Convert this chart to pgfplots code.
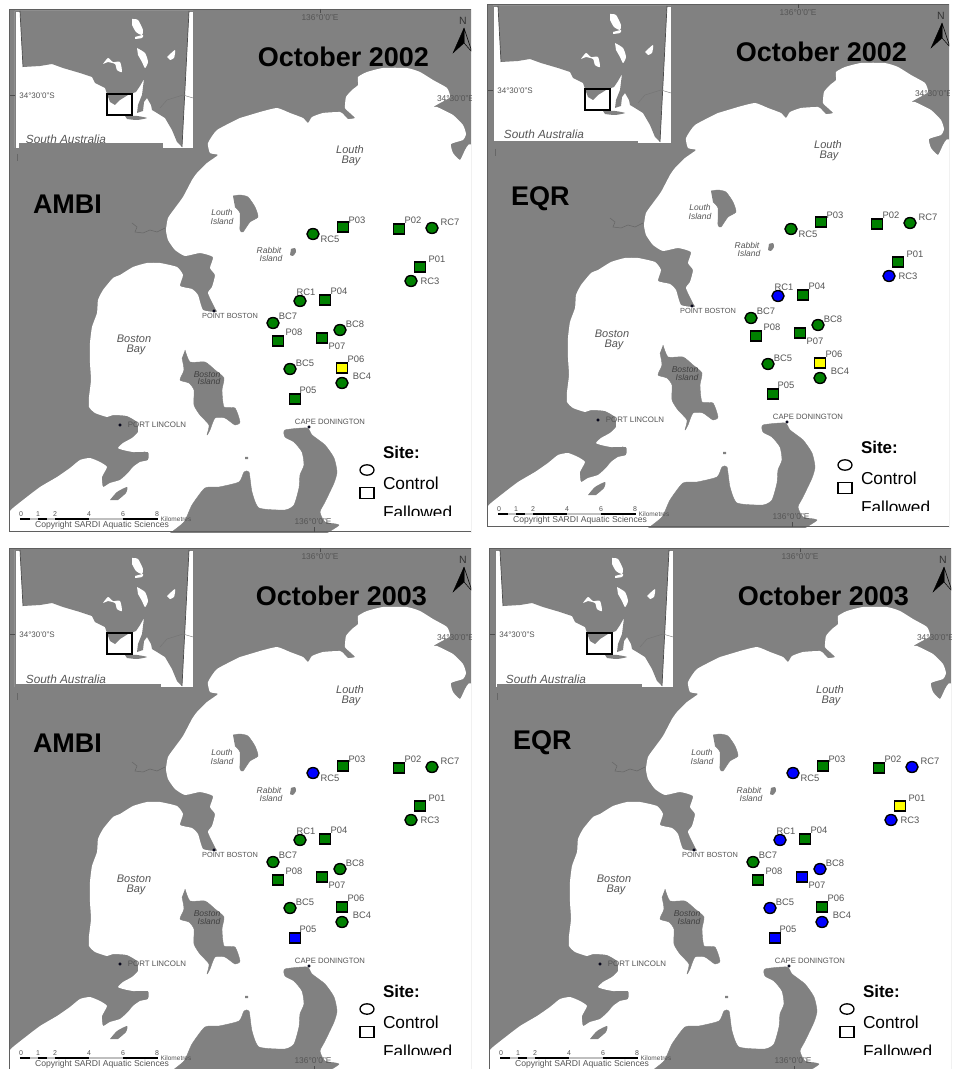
\documentclass[border=0pt]{standalone}
\usepackage{fontspec}
\setmainfont{Liberation Sans}
\usepackage{pgfplots}
\usepackage{pgfplotstable}
\pgfplotsset{compat=1.18}

\definecolor{land}{RGB}{129,129,129}
\definecolor{framec}{RGB}{95,95,95}
\definecolor{labelc}{RGB}{85,85,85}
\definecolor{sgreen}{RGB}{0,128,0}
\definecolor{sblue}{RGB}{0,0,255}
\definecolor{syellow}{RGB}{255,255,0}
\newcommand{\fs}[1]{\fontsize{#1}{#1}\selectfont}
\tikzset{every node/.append style={inner sep=0pt, outer sep=0pt}}

% all map coordinates are pixels of the top left panel
\pgfplotstableread{
x y
240 118
217 130
208 143
210 153
218 155
207 163
197 173
192 180
183 197
175 208
168 218
166 230
168 240
175 250
185 256
200 253
213 257
210 268
215 275
212 287
208 293
215 308
217 312
203 310
198 295
192 289
180 286
183 275
177 267
160 263
147 263
133 267
120 275
113 278
103 290
98 300
97 313
92 327
90 343
90 363
91 380
89 397
89 407
95 413
107 417
113 415
127 416
137 422
138 432
132 438
123 443
118 448
123 450
133 452
148 452
148 460
140 462
133 467
128 473
120 480
110 483
103 487
102 477
107 467
100 462
90 458
80 460
70 468
57 477
40 487
23 500
13 508
9 513
9 534
473 534
473 157
460 160
453 153
451 144
463 140
466 134
463 125
453 115
437 107
433 107
440 103
450 97
447 88
433 80
420 72
407 68
383 68
367 72
358 77
358 85
352 90
346 97
345 108
350 113
355 118
348 119
344 115
340 112
323 113
312 117
308 123
303 118
290 113
277 108
260 112
}\water

\pgfplotstableread{
x y
169 534
184 522
192 505
205 488
219 487
239 482
244 472
249 472
252 492
259 508
285 510
294 505
299 488
300 475
304 465
302 452
294 442
285 437
285 430
307 428
312 435
325 445
334 458
337 472
334 483
325 502
320 512
325 522
339 525
325 534
}\capedon

\pgfplotstableread{
x y
185 350
190 362
205 362
215 370
224 378
222 390
224 407
235 408
240 422
235 425
225 418
215 418
210 430
207 435
209 425
200 415
194 405
194 390
189 383
180 380
184 370
182 358
}\bostonisl

\pgfplotstableread{
x y
233 196
240 195
248 197
255 207
258 217
250 222
243 232
240 230
240 213
235 207
}\louthisl

\pgfplotstableread{
x y
20 11
189 11
182 147
177 142
172 130
165 118
157 113
152 110
151 105
147 98
144 102
143 111
137 113
138 105
142 95
144 79
140 86
136 92
128 95
120 100
115 105
110 102
107 94
105 88
95 83
92 77
80 73
63 68
52 64
40 66
23 67
}\insetland

% site status per panel: g green, b blue, y yellow
\pgfplotstableread{
x y a b c d
343 227 sg sg sg sg
313 234 cg cg cb cb
399 229 sg sg sg sg
432 228 cg cg cg cb
420 267 sg sg sg sy
411 281 cg cb cg cb
300 301 cg cb cg cb
325 300 sg sg sg sg
273 323 cg cg cg cg
340 330 cg cg cg cb
278 341 sg sg sg sg
322 338 sg sg sg sb
290 369 cg cg cg cb
342 368 sy sy sg sg
342 383 cg cg cg cb
295 399 sg sg sb sb
}\sites

\pgfplotstableread{
x y lab
357 220 P03
330 239 RC5
413 220 P02
450 222 RC7
437 259 P01
430 281 RC3
306 292 RC1
339 291 P04
288 316 BC7
355 324 BC8
294 332 P08
337 346 P07
305 363 BC5
356 359 P06
362 376 BC4
308 390 P05
}\sitelabels

\pgfplotsset{mapaxis/.style={
  scale only axis, width=462pt, height=523pt,
  xmin=9, xmax=471, ymin=9, ymax=532, y dir=reverse,
  hide axis, anchor=center,
}}

\newcommand{\landpoly}[1]{\addplot[fill=land, draw=land, line width=0.4pt, line join=round, smooth, tension=0.35] table {#1};}
\newcommand{\mapcol}[2]{\addplot[fill=#1, draw=none, smooth, tension=0.4] coordinates {#2};}
\newcommand{\nm}[4]{\node[font=\fs{#1}\itshape, text=#4, anchor=base] at (axis cs:#2) {#3};}

% #1 #2 panel centre, #3 status column, #4 title, #5 title x, #6 index label
% #7 #8 #9 grey box x1, x2, top
\newcommand{\panel}[9]{%
\begin{axis}[mapaxis, at={(#1pt,#2pt)}]
  % land everywhere, then the sea, then islands
  \addplot[fill=land, draw=none] coordinates {(9,9) (473,9) (473,534) (9,534)};
  \addplot[fill=white, draw=none, line join=round, smooth, tension=0.3] table {\water};
  \landpoly{\capedon}
  \landpoly{\bostonisl}
  \landpoly{\louthisl}
  \mapcol{land}{(110,500) (117,492) (127,487) (126,493) (118,500)}
  \mapcol{land}{(245,457) (248,457) (248,459) (245,459)}
  \mapcol{land}{(291,249) (295,248) (296,252) (293,256) (290,255)}
  % inset
  \addplot[fill=white, draw=gray, line width=0.8pt] coordinates {(15,11) (193,11) (193,148) (15,148) (15,11)};
  \addplot[fill=land, draw=none] table {\insetland};
  \mapcol{land}{(125,116) (137,116) (147,118) (137,120) (127,119)}
  \mapcol{white}{(132,19) (138,20) (143,30) (142,35) (136,32) (132,25)}
  \mapcol{white}{(135,37) (143,35) (142,38) (135,39)}
  \mapcol{white}{(137,48) (145,53) (148,62) (145,68) (142,62) (138,55)}
  \mapcol{white}{(167,57) (175,50) (174,58) (170,60)}
  \mapcol{white}{(103,64) (108,58) (113,62) (120,62) (122,72) (117,70) (115,64) (108,62)}
  \draw[black!70, line width=0.7pt] (20,11) -- (23,67);
  \draw[black!70, line width=0.7pt] (189,11) -- (182,147);
  \draw[black!55, line width=0.4pt] (160,108) -- (167,100) -- (183,95) -- (193,98);
  \draw[black!70, line width=0.6pt] (10,95) -- (15,95);
  \draw[black, line width=2.2pt] (107,94) rectangle (132,115);
  \node[font=\fs{8}, text=labelc] at (axis cs:37,96) {34°30'0"S};
  \nm{11.8}{66,144}{South Australia}{labelc}
  \addplot[fill=land, draw=none] coordinates {(#7,#9) (#8,#9) (#8,165) (#7,165)};
  \draw[black!60, line width=0.7pt] (17,154) -- (17,161);
  % road on the mainland
  \draw[black!60, line width=0.5pt] (132,223) -- (137,227) -- (135,232) -- (143,233) -- (150,230) -- (157,232) -- (165,228);
  % frame, ticks
  \draw[framec, line width=1.3pt] (471,9.7) -- (9.7,9.7) -- (9.7,531.3) -- (471,531.3);
  \draw[black!70, line width=0.7pt] (320,9) -- (320,13);
  \draw[black!70, line width=0.7pt] (314,527) -- (314,532);
  % north arrow
  \addplot[fill=land, draw=black, line width=0.5pt] coordinates {(464,28) (472,52) (464,43) (464,28)};
  \addplot[fill=black, draw=black, line width=0.3pt] coordinates {(464,28) (453,53) (464,43) (464,28)};
  \node[font=\fs{10.5}, text=black!80] at (axis cs:463,21) {N};
  % scale bar
  \draw[black!25, line width=2.4pt] (20,519) -- (158,519);
  \draw[black, line width=2.4pt] (20,519) -- (30,519) (38,519) -- (47,519) (55,519) -- (89,519) (123,519) -- (158,519);
  \node[font=\fs{7}, text=labelc] at (axis cs:21,514) {0};
  \node[font=\fs{7}, text=labelc] at (axis cs:38,514) {1};
  \node[font=\fs{7}, text=labelc] at (axis cs:55,514) {2};
  \node[font=\fs{7}, text=labelc] at (axis cs:89,514) {4};
  \node[font=\fs{7}, text=labelc] at (axis cs:123,514) {6};
  \node[font=\fs{7}, text=labelc] at (axis cs:157,514) {8};
  \node[font=\fs{6.5}, text=labelc] at (axis cs:176,519) {Kilometres};
  \node[font=\fs{8.6}, text=labelc] at (axis cs:102,525.5) {Copyright SARDI Aquatic Sciences};
  % place names
  \nm{11}{350,154}{Louth}{labelc}
  \nm{11}{351,164}{Bay}{labelc}
  \nm{8.5}{222,216}{Louth}{labelc}
  \nm{8.5}{222,225}{Island}{labelc}
  \nm{8.5}{269,254}{Rabbit}{labelc}
  \nm{8.5}{271,262}{Island}{labelc}
  \nm{11}{134,343}{Boston}{labelc}
  \nm{11}{136,353}{Bay}{labelc}
  \nm{8.5}{207,377}{Boston}{black!75}
  \nm{8.5}{209,385}{Island}{black!75}
  \node[font=\fs{7.4}, text=labelc] at (axis cs:230,316) {POINT BOSTON};
  \node[font=\fs{7.9}, text=labelc] at (axis cs:157,425) {PORT LINCOLN};
  \node[font=\fs{7.7}, text=labelc] at (axis cs:330,422) {CAPE DONINGTON};
  \node[font=\fs{8.4}, text=labelc] at (axis cs:320,18) {136°0'0"E};
  \node[font=\fs{8.4}, text=labelc] at (axis cs:313,522) {136°0'0"E};
  \node[font=\fs{8.4}, text=labelc, anchor=west] at (axis cs:437,99) {34°30'0"E};
  % towns
  \addplot[only marks, mark=*, mark size=1.4pt, mark options={fill=black!80!blue, draw=none}]
    coordinates {(120,425) (214,311) (309,427)};
  % sites
  \addplot[scatter, only marks, scatter src=explicit symbolic,
    line width=1.4pt,
    scatter/classes={
      cg={mark=*, mark size=5.4pt, draw=black, fill=sgreen},
      cb={mark=*, mark size=5.4pt, draw=black, fill=sblue},
      sg={mark=square*, mark size=5pt, draw=black, fill=sgreen},
      sb={mark=square*, mark size=5pt, draw=black, fill=sblue},
      sy={mark=square*, mark size=5pt, draw=black, fill=syellow}
    }, mark options={xscale=1.12}] table[meta=#3] {\sites};
  \addplot[draw=none, mark=none, point meta=explicit symbolic, nodes near coords,
    nodes near coords style={anchor=center, font=\fs{9.4}, text=labelc}]
    table[meta=lab] {\sitelabels};
  % legend
  \addplot[only marks, mark=*, mark size=5.2pt, line width=1.3pt,
    mark options={xscale=1.35, fill=white, draw=black}] coordinates {(367,470)};
  \addplot[only marks, mark=square*, mark size=5.2pt, line width=1.3pt,
    mark options={xscale=1.35, fill=white, draw=black}] coordinates {(367,493)};
  \node[font=\fs{17}\bfseries, anchor=west] at (axis cs:383,452) {Site:};
  \node[font=\fs{17.3}, anchor=west] at (axis cs:383,483) {Control};
  \begin{scope}
    \clip (axis cs:375,500) rectangle (axis cs:460,515);
    \node[font=\fs{17.3}, anchor=base west] at (axis cs:383,518) {Fallowed};
  \end{scope}
  % headings
  \node[font=\fs{27}\bfseries] at (axis cs:#5,57) {#4};
  \node[font=\fs{27}\bfseries, anchor=west] at (axis cs:33,204) {#6};
\end{axis}}

\begin{document}
\begin{tikzpicture}
\path[use as bounding box] (0,0) rectangle (954pt,1069pt);
\panel{240}{798.5}{a}{October 2002}{343.5}{AMBI}{19}{163}{143}
\panel{718}{803.5}{b}{October 2002}{343.5}{EQR}{16}{160}{146}
\panel{240}{259.5}{c}{October 2003}{341.5}{AMBI}{16}{161}{145}
\panel{720}{259.5}{d}{October 2003}{343.5}{EQR}{17}{162}{145}
\end{tikzpicture}
\end{document}
